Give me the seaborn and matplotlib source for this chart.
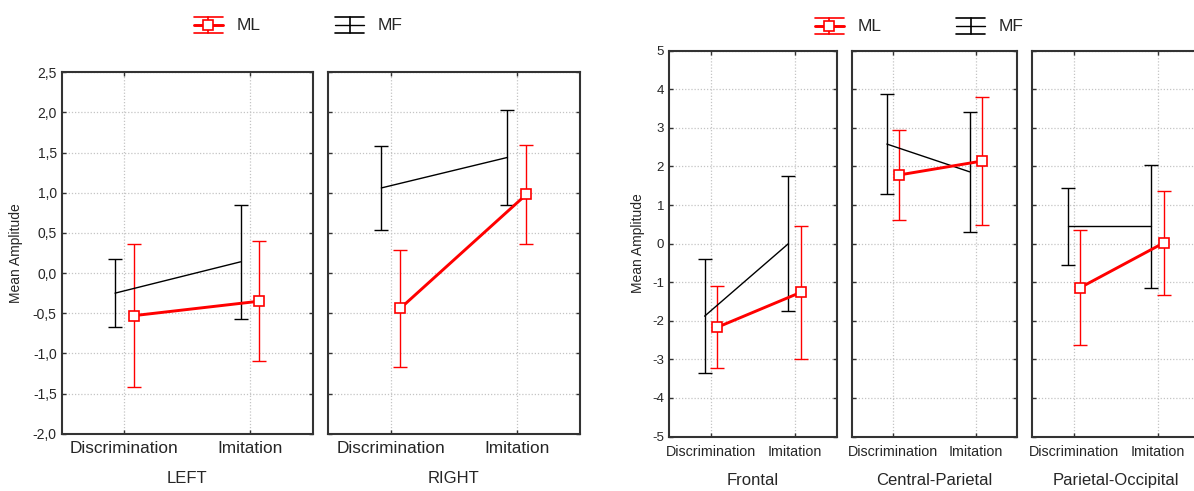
import matplotlib
matplotlib.use("Agg")
import matplotlib.pyplot as plt
import numpy as np
import pandas as pd
import seaborn as sns
from matplotlib.lines import Line2D
from matplotlib.legend_handler import HandlerBase

# ---- data -------------------------------------------------------------
conditions = ["Discrimination", "Imitation"]
groups = ["ML", "MF"]

hemi_panels = ["LEFT", "RIGHT"]
hemi_ml_mean = [[-0.53, -0.35], [-0.44, 0.98]]
hemi_ml_err = [[0.89, 0.75], [0.73, 0.62]]
hemi_mf_mean = [[-0.25, 0.14], [1.06, 1.44]]
hemi_mf_err = [[0.42, 0.71], [0.52, 0.59]]
hemi_yticks = [-2.0, -1.5, -1.0, -0.5, 0.0, 0.5, 1.0, 1.5, 2.0, 2.5]
hemi_yticklabels = ["-2,0", "-1,5", "-1,0", "-0,5", "0,0", "0,5", "1,0", "1,5", "2,0", "2,5"]

region_panels = ["Frontal", "Central-Parietal", "Parietal-Occipital"]
region_ml_mean = [[-2.17, -1.26], [1.78, 2.14], [-1.14, 0.02]]
region_ml_err = [[1.06, 1.72], [1.16, 1.67], [1.48, 1.34]]
region_mf_mean = [[-1.88, 0.0], [2.58, 1.86], [0.45, 0.45]]
region_mf_err = [[1.47, 1.74], [1.30, 1.56], [1.00, 1.59]]
region_yticks = [-5, -4, -3, -2, -1, 0, 1, 2, 3, 4, 5]
region_yticklabels = ["-5", "-4", "-3", "-2", "-1", "0", "1", "2", "3", "4", "5"]

ylabel = "Mean Amplitude"

# ---- style ------------------------------------------------------------
sns.set_style("white")
plt.rcParams["font.family"] = ["Liberation Sans", "DejaVu Sans"]

W, H = 1194, 491
fig = plt.figure(figsize=(W / 100, H / 100), dpi=100)

colors = {"ML": "#ff0000", "MF": "#000000"}
line_w = {"ML": 2.1, "MF": 1.0}
dodge = {"ML": 0.075, "MF": -0.075}


def long_table(panels, ml_mean, ml_err, mf_mean, mf_err):
    rows = []
    for p, panel in enumerate(panels):
        for g, (mean, err) in {"ML": (ml_mean, ml_err), "MF": (mf_mean, mf_err)}.items():
            for c, cond in enumerate(conditions):
                rows.append(dict(panel=panel, group=g, condition=cond,
                                 pos=c + dodge[g], mean=mean[p][c], err=err[p][c]))
    return pd.DataFrame(rows)


def px_axes(x0, x1, top, bottom):
    return fig.add_axes([x0 / W, 1 - bottom / H, (x1 - x0) / W, (bottom - top) / H])


def draw_group(df, panels, boxes, ylim, yticks, yticklabels, xfs, yfs, tick_pad, label_y):
    axes = []
    for i, (panel, box) in enumerate(zip(panels, boxes)):
        ax = px_axes(*box)
        sub = df[df.panel == panel]
        for g in ["MF", "ML"]:
            d = sub[sub.group == g]
            ax.errorbar(d["pos"], d["mean"], yerr=d["err"], fmt="none",
                        ecolor=colors[g], elinewidth=1.0, capsize=4.7,
                        capthick=1.0, zorder=2)
            if g == "ML":
                sns.lineplot(data=d, x="pos", y="mean", ax=ax, color=colors[g],
                             linewidth=line_w[g], marker="s", markersize=7,
                             markerfacecolor="white", markeredgecolor=colors[g],
                             markeredgewidth=1.2, errorbar=None, zorder=4)
            else:
                sns.lineplot(data=d, x="pos", y="mean", ax=ax, color=colors[g],
                             linewidth=line_w[g], errorbar=None, zorder=3)
        ax.set_xlim(-0.5, 1.5)
        ax.set_ylim(*ylim)
        ax.set_xticks(range(len(conditions)))
        ax.set_xticklabels(conditions, fontsize=xfs)
        ax.set_yticks(yticks)
        ax.set_yticklabels(yticklabels, fontsize=yfs)
        ax.set_xlabel("")
        ax.set_ylabel("")
        ax.grid(True, color="#c4c4c4", linestyle=(0, (1, 1.5)), linewidth=0.9)
        ax.set_axisbelow(True)
        for s in ax.spines.values():
            s.set_visible(True)
            s.set_color("#333333")
            s.set_linewidth(1.5)
        ax.tick_params(direction="in", length=3, width=1, color="#333333",
                       top=True, right=True, left=True, bottom=True,
                       labelleft=(i == 0), pad=tick_pad)
        ax.tick_params(axis="y", pad=3.6)
        ax.text(0.5, label_y, panel, transform=ax.transAxes, ha="center",
                va="center", fontsize=12)
        axes.append(ax)
    return axes


class ErrorbarIcon(HandlerBase):
    def create_artists(self, legend, orig_handle, xdescent, ydescent,
                       width, height, fontsize, trans):
        color = orig_handle.get_color()
        lw = orig_handle.get_linewidth()
        x0, x1 = -xdescent, -xdescent + width
        y0, y1 = -ydescent, -ydescent + height
        xm, ym = (x0 + x1) / 2, (y0 + y1) / 2
        arts = [
            Line2D([x0, x1], [y1, y1], color=color, lw=1.2),
            Line2D([x0, x1], [y0, y0], color=color, lw=1.2),
            Line2D([xm, xm], [y0, y1], color=color, lw=1.2),
            Line2D([x0, x1], [ym, ym], color=color, lw=lw),
        ]
        if orig_handle.get_marker() == "s":
            arts.append(Line2D([xm], [ym], marker="s", markersize=7,
                               markerfacecolor="white", markeredgecolor=color,
                               markeredgewidth=1.2, linestyle="none"))
        for a in arts:
            a.set_transform(trans)
        return arts


def add_legend(cx, cy):
    handles = [Line2D([], [], color=colors["ML"], lw=line_w["ML"], marker="s"),
               Line2D([], [], color=colors["MF"], lw=line_w["MF"])]
    leg = fig.legend(handles, groups, loc="center",
                     bbox_to_anchor=(cx / W, 1 - cy / H), ncol=2, frameon=False,
                     fontsize=12.5, handlelength=1.7, handleheight=1.05,
                     handletextpad=0.75, columnspacing=4.3,
                     handler_map={Line2D: ErrorbarIcon()})
    return leg


# ---- hemisphere panels --------------------------------------------------
hemi_df = long_table(hemi_panels, hemi_ml_mean, hemi_ml_err, hemi_mf_mean, hemi_mf_err)
draw_group(hemi_df, hemi_panels,
           [(61.7, 312.7, 72.3, 433.7), (327.7, 580.0, 72.3, 433.7)],
           (-2.0, 2.5), hemi_yticks, hemi_yticklabels,
           xfs=12.4, yfs=10, tick_pad=5.5, label_y=-0.1226)
fig.text(16 / W, 1 - 253 / H, ylabel, rotation=90, ha="center", va="center", fontsize=10)
add_legend(298, 25)

# ---- region panels ------------------------------------------------------
region_df = long_table(region_panels, region_ml_mean, region_ml_err, region_mf_mean, region_mf_err)
draw_group(region_df, region_panels,
           [(669.0, 836.7, 50.7, 436.5), (851.7, 1017.3, 50.7, 436.5),
            (1032.3, 1199.3, 50.7, 436.5)],
           (-5, 5), region_yticks, region_yticklabels,
           xfs=10.3, yfs=9.5, tick_pad=6.0, label_y=-0.1128)
fig.text(638.3 / W, 1 - 243.6 / H, ylabel, rotation=90, ha="center", va="center", fontsize=10)
add_legend(919, 26)

fig.savefig("out.png", dpi=100)
